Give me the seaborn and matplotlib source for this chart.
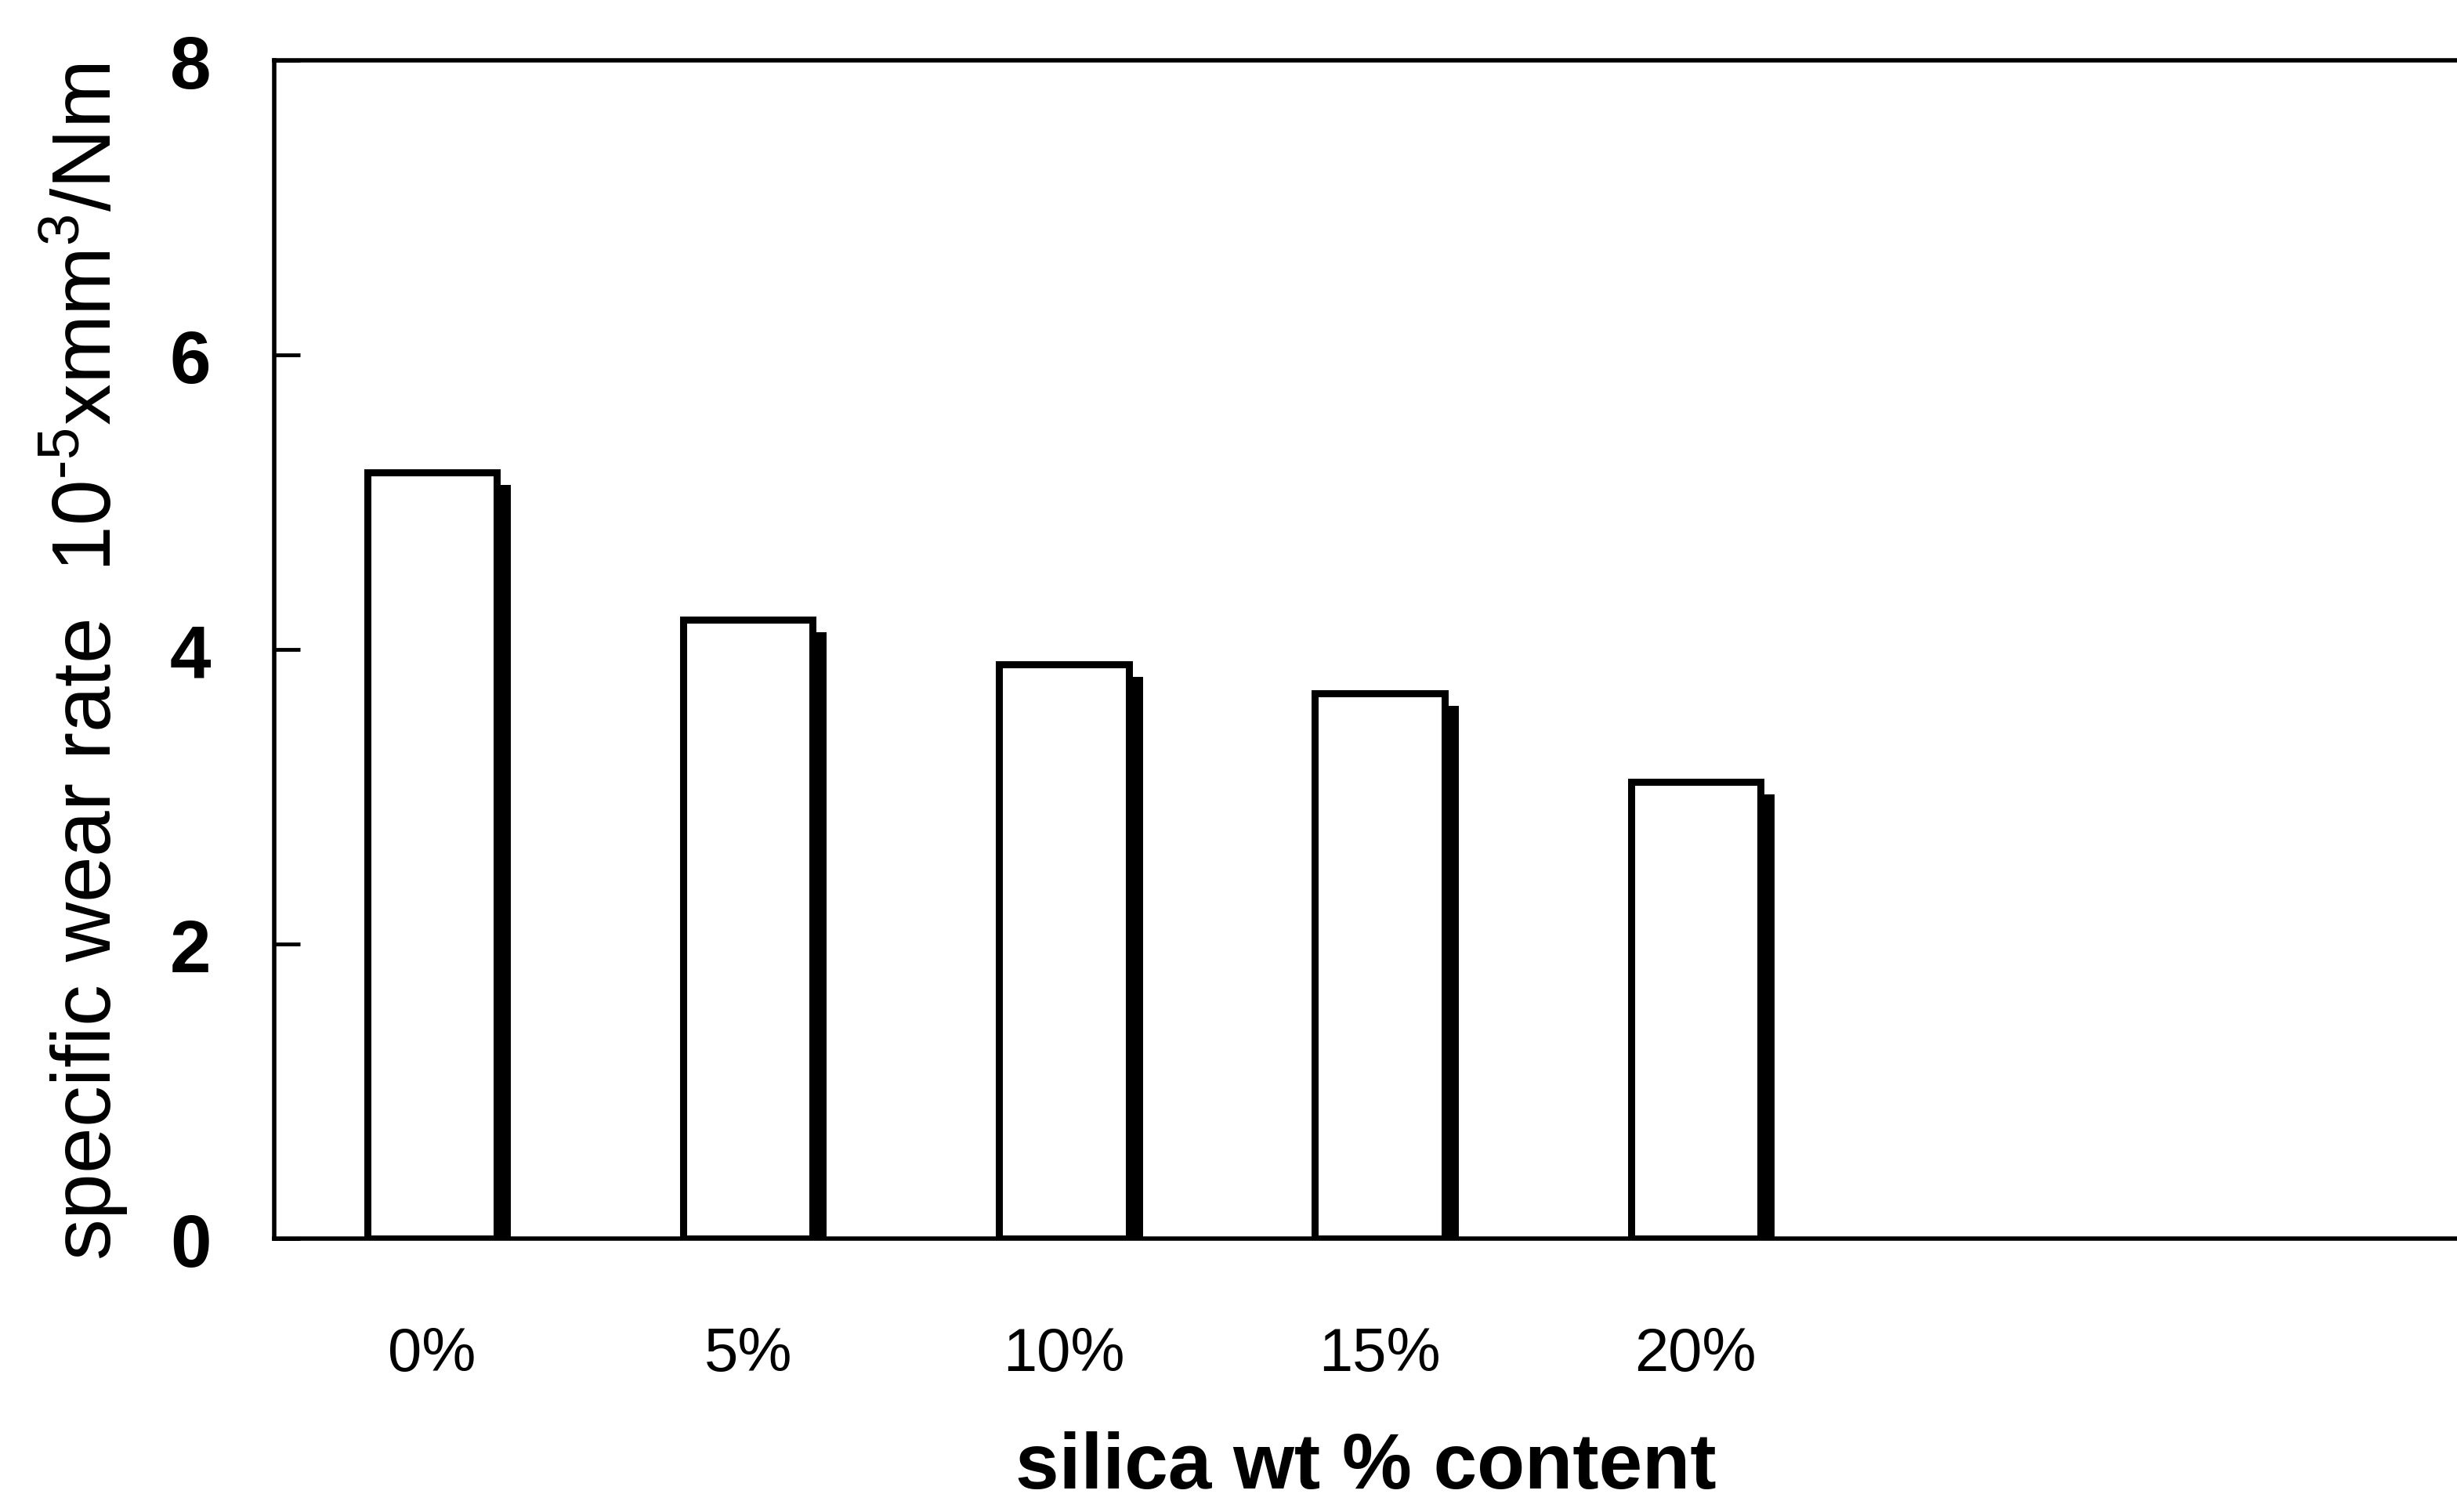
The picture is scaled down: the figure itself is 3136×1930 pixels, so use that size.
import matplotlib
matplotlib.use("Agg")
import matplotlib.pyplot as plt
import matplotlib.transforms as mtransforms
import seaborn as sns
import pandas as pd

categories = ["0%", "5%", "10%", "15%", "20%"]
wear_rate = [5.2, 4.2, 3.9, 3.7, 3.1]
y_ticks = [0, 2, 4, 6, 8]

sns.set_theme(style="white")
fam = ["Liberation Sans", "DejaVu Sans"]
plt.rcParams["font.family"] = fam
plt.rcParams["mathtext.fontset"] = "custom"
plt.rcParams["mathtext.rm"] = "Liberation Sans"
plt.rcParams["mathtext.it"] = "Liberation Sans"

df = pd.DataFrame({"content": categories, "rate": wear_rate})

fig = plt.figure(figsize=(31.36, 19.31), dpi=100)
ax = fig.add_axes([0.1116, 0.1807, 0.8884, 0.7789])

# shadow bars (drawn first, offset right/down)
sns.barplot(data=df, x="content", y="rate", order=categories, ax=ax,
            color="black", width=0.41, linewidth=0, saturation=1)
n_shadow = len(ax.patches)
shift = mtransforms.ScaledTranslation(18 / 100, -16 / 100, fig.dpi_scale_trans)
for p in ax.patches[:n_shadow]:
    p.set_transform(ax.transData + shift)
    p.set_facecolor("black")
    p.set_edgecolor("black")

# main bars
sns.barplot(data=df, x="content", y="rate", order=categories, ax=ax,
            color="white", width=0.41, linewidth=6.5, edgecolor="black",
            saturation=1)
for p in ax.patches[n_shadow:]:
    p.set_facecolor("white")
    p.set_edgecolor("black")

ax.set_xlim(-0.5, 6.41)
ax.set_ylim(0, 8)
ax.set_yticks(y_ticks)

for side in ["left", "bottom", "top"]:
    ax.spines[side].set_visible(True)
    ax.spines[side].set_color("black")
    ax.spines[side].set_linewidth(4)
ax.spines["right"].set_visible(False)

ax.tick_params(axis="y", direction="in", length=24, width=3.5, color="black",
               pad=58, left=True)
ax.tick_params(axis="x", length=0, pad=80)

for lab in ax.get_yticklabels():
    lab.set_fontweight("bold")
    lab.set_fontsize(68)
    lab.set_color("black")
for lab in ax.get_xticklabels():
    lab.set_fontsize(56)
    lab.set_color("black")

ax.set_xlabel("silica wt % content", fontsize=72, fontweight="bold",
              color="black", labelpad=44)
ax.set_ylabel(r"specific wear rate  10$^{\text{-}5}$xmm$^{3}$/Nm", fontsize=76,
              color="black")
ax.yaxis.set_label_coords(-0.066, 0.49)

ax.grid(False)
fig.savefig("out.png", dpi=100, facecolor="white")
